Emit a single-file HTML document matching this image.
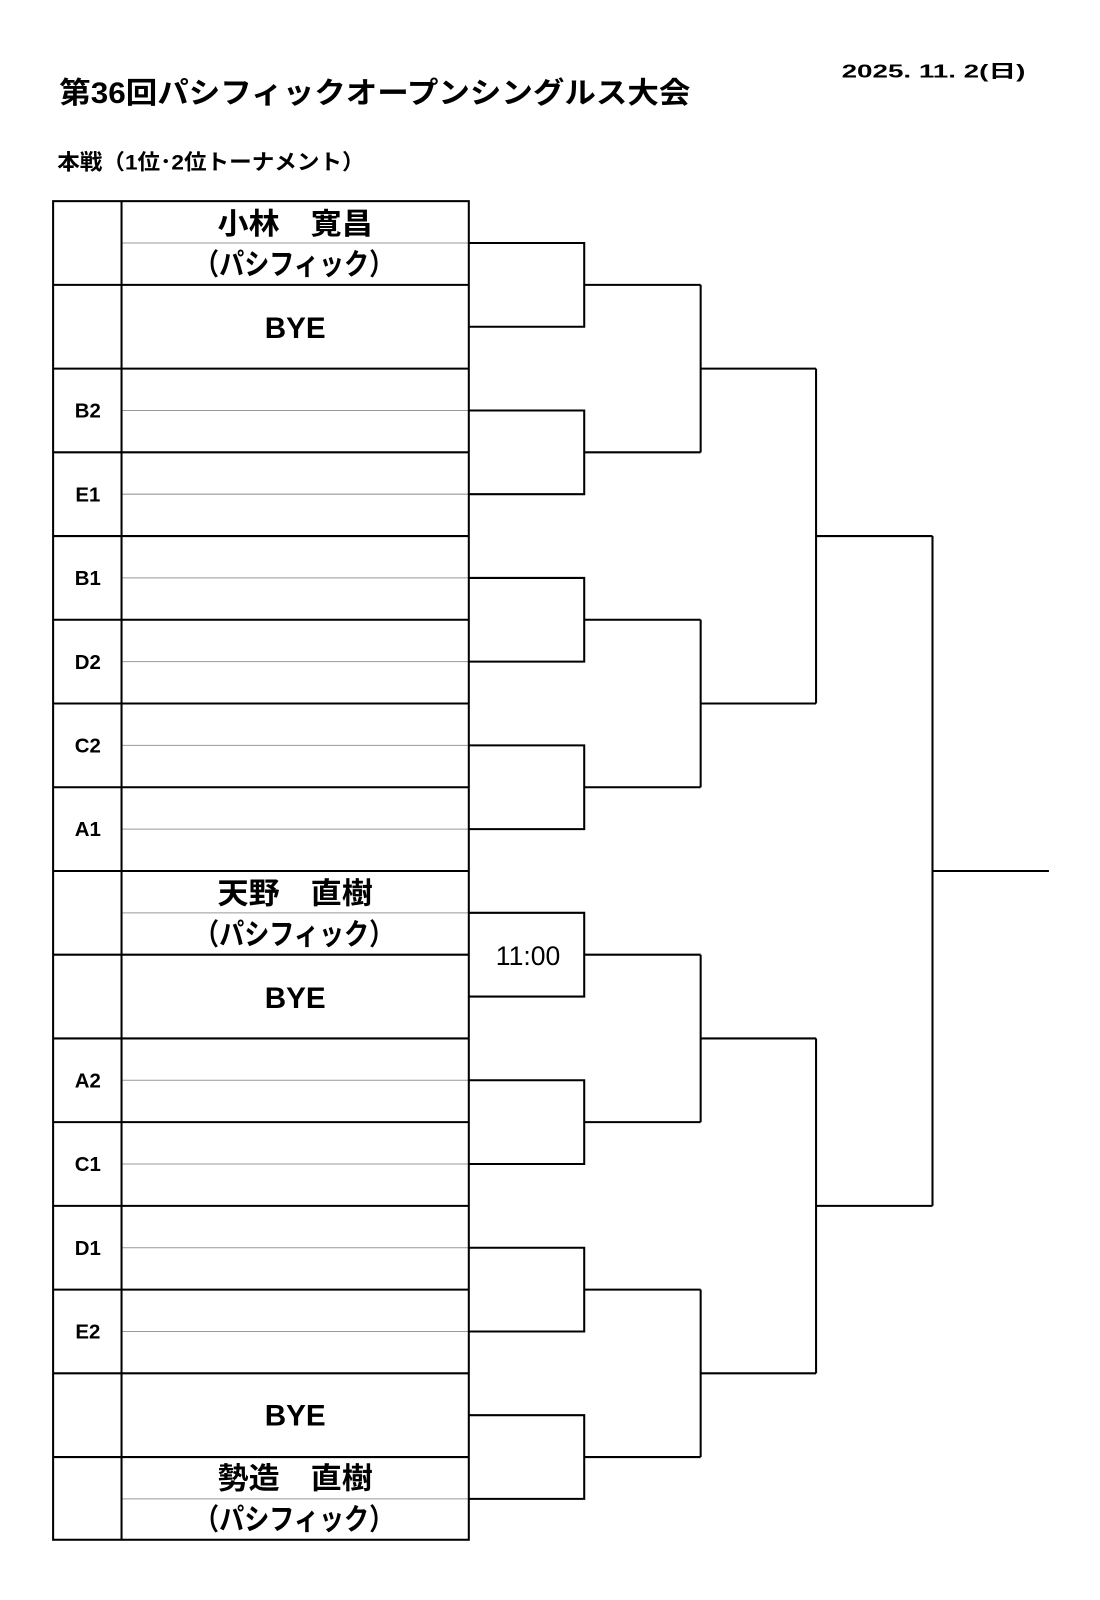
<!DOCTYPE html>
<html><head><meta charset="utf-8"><style>
body{margin:0;background:#fff;}
svg{display:block;font-family:"Liberation Sans","Noto Sans CJK JP",sans-serif;}
</style></head><body>
<svg width="1100" height="1600" viewBox="0 0 1077 1567" preserveAspectRatio="none" xmlns="http://www.w3.org/2000/svg">
<rect width="1077" height="1567" fill="#fff"/>
<text x="58" y="101" font-size="29" font-weight="bold" textLength="618" lengthAdjust="spacingAndGlyphs">第36回パシフィックオープンシングルス大会</text>
<text x="824" y="76" font-size="18" font-weight="bold" textLength="180" lengthAdjust="spacingAndGlyphs">2025. 11. 2(日)</text>
<text x="56" y="166" font-size="21" font-weight="bold" textLength="301" lengthAdjust="spacingAndGlyphs">本戦（1位･2位トーナメント）</text>
<g stroke="#999" stroke-width="1">
<line x1="119" y1="238" x2="459" y2="238"/><line x1="119" y1="402" x2="459" y2="402"/><line x1="119" y1="484" x2="459" y2="484"/><line x1="119" y1="566" x2="459" y2="566"/><line x1="119" y1="648" x2="459" y2="648"/><line x1="119" y1="730" x2="459" y2="730"/><line x1="119" y1="812" x2="459" y2="812"/><line x1="119" y1="894" x2="459" y2="894"/><line x1="119" y1="1058" x2="459" y2="1058"/><line x1="119" y1="1140" x2="459" y2="1140"/><line x1="119" y1="1222" x2="459" y2="1222"/><line x1="119" y1="1304" x2="459" y2="1304"/><line x1="119" y1="1468" x2="459" y2="1468"/>
</g>
<g stroke="#000" stroke-width="2" fill="none">
<rect x="52" y="197" width="407" height="1311"/>
<line x1="119" y1="197" x2="119" y2="1508"/>
<path d="M52 279H459M52 361H459M52 443H459M52 525H459M52 607H459M52 689H459M52 771H459M52 853H459M52 935H459M52 1017H459M52 1099H459M52 1181H459M52 1263H459M52 1345H459M52 1427H459"/>
<path d="M459 238H572V320H459M572 279H686"/>
<path d="M459 402H572V484H459M572 443H686"/>
<path d="M459 566H572V648H459M572 607H686"/>
<path d="M459 730H572V812H459M572 771H686"/>
<path d="M459 894H572V976H459M572 935H686"/>
<path d="M459 1058H572V1140H459M572 1099H686"/>
<path d="M459 1222H572V1304H459M572 1263H686"/>
<path d="M459 1386H572V1468H459M572 1427H686"/>
<path d="M686 279V443M686 361H799M686 607V771M686 689H799M686 935V1099M686 1017H799M686 1263V1427M686 1345H799"/>
<path d="M799 361V689M799 525H913M799 1017V1345M799 1181H913"/>
<path d="M913 525V1181M913 853H1027"/>
</g>
<g font-size="29" font-weight="bold">
<text x="213" y="229" textLength="152" lengthAdjust="spacingAndGlyphs">小林　寛昌</text>
<text x="190" y="269" textLength="196" lengthAdjust="spacingAndGlyphs">（パシフィック）</text>
<text x="213" y="885" textLength="152" lengthAdjust="spacingAndGlyphs">天野　直樹</text>
<text x="190" y="925" textLength="196" lengthAdjust="spacingAndGlyphs">（パシフィック）</text>
<text x="213" y="1458" textLength="152" lengthAdjust="spacingAndGlyphs">勢造　直樹</text>
<text x="190" y="1498" textLength="196" lengthAdjust="spacingAndGlyphs">（パシフィック）</text>
</g>
<g font-size="29" font-weight="bold" text-anchor="middle">
<text x="289" y="331">BYE</text>
<text x="289" y="987">BYE</text>
<text x="289" y="1396">BYE</text>
</g>
<g font-size="20" font-weight="bold" text-anchor="middle">
<text x="86" y="409">B2</text><text x="86" y="491">E1</text><text x="86" y="573">B1</text><text x="86" y="655">D2</text><text x="86" y="737">C2</text><text x="86" y="819">A1</text><text x="86" y="1065">A2</text><text x="86" y="1147">C1</text><text x="86" y="1229">D1</text><text x="86" y="1311">E2</text>
</g>
<text x="517" y="945" font-size="26" text-anchor="middle">11:00</text>
</svg>
</body></html>
